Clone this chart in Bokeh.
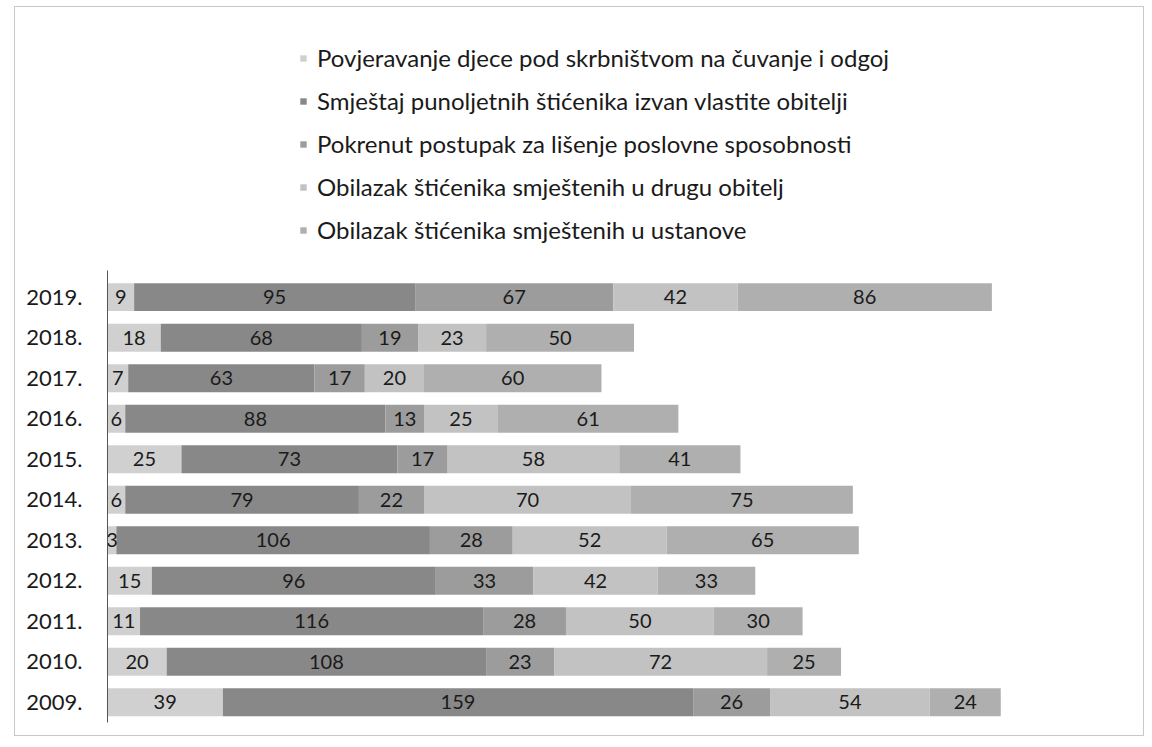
import numpy as np
from bokeh.plotting import figure
from bokeh.models import ColumnDataSource, Legend, LegendItem, Range1d, FixedTicker
from bokeh.core.properties import value
from bokeh.embed import file_html
from bokeh.resources import INLINE

years = ["2009.", "2010.", "2011.", "2012.", "2013.", "2014.", "2015.", "2016.", "2017.", "2018.", "2019."]
series_names = [
    "Povjeravanje djece pod skrbništvom na čuvanje i odgoj",
    "Smještaj punoljetnih štićenika izvan vlastite obitelji",
    "Pokrenut postupak za lišenje poslovne sposobnosti",
    "Obilazak štićenika smještenih u drugu obitelj",
    "Obilazak štićenika smještenih u ustanove",
]
povjeravanje = [39, 20, 11, 15, 3, 6, 25, 6, 7, 18, 9]
smjestaj = [159, 108, 116, 96, 106, 79, 73, 88, 63, 68, 95]
pokrenut = [26, 23, 28, 33, 28, 22, 17, 13, 17, 19, 67]
obilazak_obitelj = [54, 72, 50, 42, 52, 70, 58, 25, 20, 23, 42]
obilazak_ustanove = [24, 25, 30, 33, 65, 75, 41, 61, 60, 50, 86]

colors = ["#d0d0d0", "#888888", "#9c9c9c", "#c2c2c2", "#afafaf"]
keys = ["s0", "s1", "s2", "s3", "s4"]
series = [povjeravanje, smjestaj, pokrenut, obilazak_obitelj, obilazak_ustanove]

ypos = list(range(len(years)))
data = {"y": ypos}
for k, s in zip(keys, series):
    data[k] = s
source = ColumnDataSource(data)

FONT = "Lato"

p = figure(
    width=1130, height=730,
    y_range=Range1d(-0.5, 17.15),
    x_range=Range1d(0, 346.2),
    output_backend="svg", toolbar_location=None,
    min_border_left=92, min_border_right=14, min_border_top=0, min_border_bottom=15,
)
p.margin = (6, 0, 0, 14)

renderers = p.hbar_stack(keys, y="y", height=0.69, color=colors, source=source,
                         line_color=None)

# value labels centered in each segment
arr = np.array(series, dtype=float)
cum = np.cumsum(arr, axis=0)
lx, ly, lt = [], [], []
for i in range(arr.shape[0]):
    for j in ypos:
        lx.append(cum[i, j] - arr[i, j] / 2.0)
        ly.append(j)
        lt.append(str(int(arr[i, j])))
lab = ColumnDataSource(dict(x=lx, y=ly, t=lt))
p.text(x="x", y="y", text="t", source=lab, text_align="center", text_baseline="middle",
       text_font=value(FONT), text_font_size="20px", text_color="#1a1a1a")

items = [LegendItem(label=n, renderers=[r]) for n, r in zip(series_names, renderers)]
legend = Legend(items=items, location=(192, 478), orientation="vertical",
                label_text_font=FONT, label_text_font_size="24px", label_text_color="#1a1a1a",
                glyph_width=8, glyph_height=8, label_standoff=10, label_height=26,
                spacing=14, padding=0, margin=0, border_line_color=None,
                background_fill_alpha=0)
p.add_layout(legend, "center")

p.xaxis.visible = False
p.xgrid.visible = False
p.ygrid.visible = False
p.outline_line_color = None
p.yaxis.ticker = FixedTicker(ticks=ypos)
p.yaxis.major_label_overrides = {i: y for i, y in zip(ypos, years)}
p.yaxis.bounds = (-0.5, 10.65)
p.yaxis.axis_line_color = "#555555"
p.yaxis.major_tick_line_color = None
p.yaxis.minor_tick_line_color = None
p.yaxis.major_label_standoff = 19
p.yaxis.major_label_text_font = FONT
p.yaxis.major_label_text_font_size = "22px"
p.yaxis.major_label_text_color = "#1a1a1a"
p.styles = {"border": "1px solid #c8c8c8"}

open("out.html", "w").write(file_html(p, INLINE))
